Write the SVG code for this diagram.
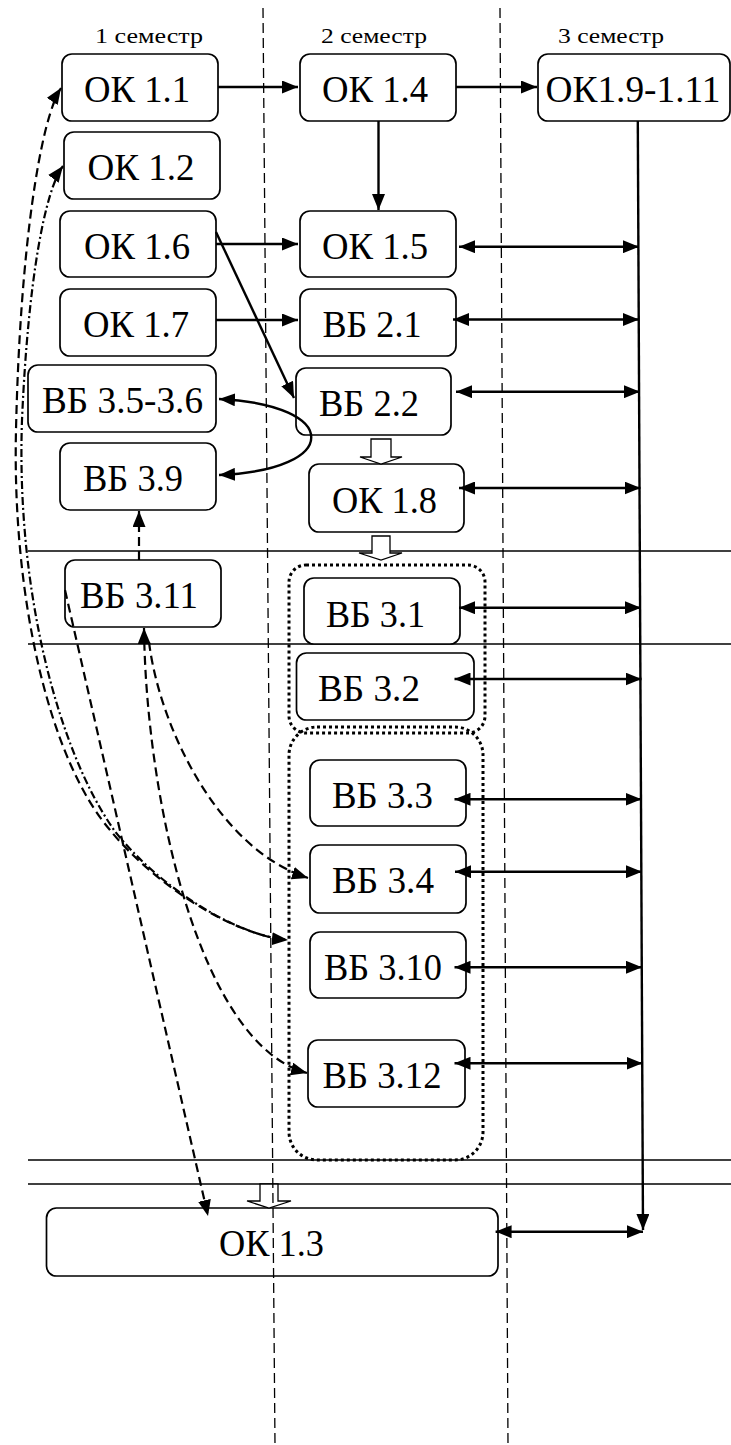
<svg xmlns="http://www.w3.org/2000/svg" width="731" height="1445" viewBox="0 0 731 1445">
<style>
.box{fill:#fff;stroke:#000;stroke-width:1.7}
.t{font-family:"Liberation Serif","Times New Roman",serif;font-size:38px;fill:#000;text-anchor:middle}
.sem{font-family:"Liberation Serif","Times New Roman",serif;font-size:21px;fill:#000}
.ln{fill:none;stroke:#000;stroke-width:2.4}
.dash{fill:none;stroke:#000;stroke-width:2.2;stroke-dasharray:9 5}
.dd{fill:none;stroke:#000;stroke-width:2.2;stroke-dasharray:8 3 2 3}
.hl{stroke:#000;stroke-width:1.5}
.vl{stroke:#000;stroke-width:1.3;stroke-dasharray:10 5}
.grp{fill:none;stroke:#000;stroke-width:3;stroke-dasharray:3 3}
.blk{fill:#fff;stroke:#000;stroke-width:1.3}
</style>
<defs>
<marker id="ah" viewBox="0 0 16 13" refX="16" refY="6.5" markerWidth="16" markerHeight="13" markerUnits="userSpaceOnUse" orient="auto-start-reverse"><path d="M0,0 L16,6.5 L0,13 z" fill="#000"/></marker>
</defs>

<g id="semesters">
<text class="sem" x="95" y="43" textLength="108" lengthAdjust="spacingAndGlyphs">1 семестр</text>
<text class="sem" x="321" y="43" textLength="106" lengthAdjust="spacingAndGlyphs">2 семестр</text>
<text class="sem" x="558" y="43" textLength="106" lengthAdjust="spacingAndGlyphs">3 семестр</text>
</g>

<g id="hlines">
<line class="hl" x1="28" y1="551" x2="731" y2="551"/>
<line class="hl" x1="28" y1="644" x2="731" y2="644"/>
<line class="hl" x1="28" y1="1160" x2="731" y2="1160"/>
<line class="hl" x1="28" y1="1184" x2="731" y2="1184"/>
</g>

<g id="groups">
<rect id="group1" class="grp" x="289" y="565" width="196" height="168" rx="17"/>
<rect id="group2" class="grp" x="289" y="727" width="194" height="433" rx="28"/>
</g>

<g id="OK1.1"><rect class="box" x="62" y="54" width="156" height="67" rx="10"/><text class="t" x="137" y="102" textLength="106" lengthAdjust="spacingAndGlyphs">ОК 1.1</text></g>
<g id="OK1.4"><rect class="box" x="300" y="54" width="156" height="67" rx="10"/><text class="t" x="375" y="102" textLength="106" lengthAdjust="spacingAndGlyphs">ОК 1.4</text></g>
<g id="OK1.9-1.11"><rect class="box" x="538" y="54" width="192" height="67" rx="10"/><text class="t" x="633" y="102" textLength="175" lengthAdjust="spacingAndGlyphs">ОК1.9-1.11</text></g>
<g id="OK1.2"><rect class="box" x="64" y="132" width="156" height="67" rx="10"/><text class="t" x="141" y="180" textLength="107" lengthAdjust="spacingAndGlyphs">ОК 1.2</text></g>
<g id="OK1.6"><rect class="box" x="60" y="211" width="156" height="66" rx="10"/><text class="t" x="137" y="259" textLength="106" lengthAdjust="spacingAndGlyphs">ОК 1.6</text></g>
<g id="OK1.5"><rect class="box" x="300" y="211" width="156" height="66" rx="10"/><text class="t" x="375" y="259" textLength="106" lengthAdjust="spacingAndGlyphs">ОК 1.5</text></g>
<g id="OK1.7"><rect class="box" x="60" y="289" width="156" height="67" rx="10"/><text class="t" x="136" y="337" textLength="106" lengthAdjust="spacingAndGlyphs">ОК 1.7</text></g>
<g id="VB2.1"><rect class="box" x="300" y="289" width="156" height="67" rx="10"/><text class="t" x="372" y="337" textLength="99" lengthAdjust="spacingAndGlyphs">ВБ 2.1</text></g>
<g id="VB3.5-3.6"><rect class="box" x="28" y="365" width="188" height="67" rx="10"/><text class="t" x="122.5" y="413" textLength="161" lengthAdjust="spacingAndGlyphs">ВБ 3.5-3.6</text></g>
<g id="VB2.2"><rect class="box" x="296" y="368" width="155" height="67" rx="10"/><text class="t" x="369" y="416" textLength="100" lengthAdjust="spacingAndGlyphs">ВБ 2.2</text></g>
<g id="VB3.9"><rect class="box" x="60" y="443" width="156" height="67" rx="10"/><text class="t" x="133" y="491" textLength="100" lengthAdjust="spacingAndGlyphs">ВБ 3.9</text></g>
<g id="OK1.8"><rect class="box" x="309" y="464" width="155" height="68" rx="10"/><text class="t" x="384.5" y="513" textLength="105" lengthAdjust="spacingAndGlyphs">ОК 1.8</text></g>
<g id="VB3.11"><rect class="box" x="65" y="560" width="156" height="67" rx="10"/><text class="t" x="139" y="608" textLength="118" lengthAdjust="spacingAndGlyphs">ВБ 3.11</text></g>
<g id="VB3.1"><rect class="box" x="304" y="578" width="156" height="66" rx="10"/><text class="t" x="375.5" y="627" textLength="99" lengthAdjust="spacingAndGlyphs">ВБ 3.1</text></g>
<g id="VB3.2"><rect class="box" x="296.5" y="653" width="177.5" height="67" rx="10"/><text class="t" x="369" y="701" textLength="102" lengthAdjust="spacingAndGlyphs">ВБ 3.2</text></g>
<g id="VB3.3"><rect class="box" x="310" y="760" width="156" height="66" rx="10"/><text class="t" x="382.5" y="808" textLength="101" lengthAdjust="spacingAndGlyphs">ВБ 3.3</text></g>
<g id="VB3.4"><rect class="box" x="310" y="845" width="156" height="68" rx="10"/><text class="t" x="383" y="893" textLength="102" lengthAdjust="spacingAndGlyphs">ВБ 3.4</text></g>
<g id="VB3.10"><rect class="box" x="310" y="932" width="156" height="66" rx="10"/><text class="t" x="383" y="980" textLength="118" lengthAdjust="spacingAndGlyphs">ВБ 3.10</text></g>
<g id="VB3.12"><rect class="box" x="308" y="1040" width="157" height="67" rx="10"/><text class="t" x="382" y="1088" textLength="119" lengthAdjust="spacingAndGlyphs">ВБ 3.12</text></g>
<g id="OK1.3"><rect class="box" x="46.5" y="1208" width="451.5" height="68" rx="10"/><text class="t" x="271.5" y="1256" textLength="105" lengthAdjust="spacingAndGlyphs">ОК 1.3</text></g>

<g id="connectors">
<path class="ln" d="M218 87 H298" marker-end="url(#ah)"/>
<path class="ln" d="M456 87 H537" marker-end="url(#ah)"/>
<path class="ln" d="M378.5 121 V210" marker-end="url(#ah)"/>
<path class="ln" d="M216 244 H298" marker-end="url(#ah)"/>
<path class="ln" d="M216 232 L294 398" marker-end="url(#ah)"/>
<path class="ln" d="M216 320 H298" marker-end="url(#ah)"/>
<path class="ln" d="M637.8 121 L643 1230" marker-end="url(#ah)"/>
<path class="ln" d="M219 399 C342 405 342 470 219 475" marker-start="url(#ah)" marker-end="url(#ah)"/>

<path class="ln" d="M459 246.7 H639" marker-start="url(#ah)" marker-end="url(#ah)"/>
<path class="ln" d="M453 319.5 H639" marker-start="url(#ah)" marker-end="url(#ah)"/>
<path class="ln" d="M456 391.7 H640" marker-start="url(#ah)" marker-end="url(#ah)"/>
<path class="ln" d="M459 488 H640.5" marker-start="url(#ah)" marker-end="url(#ah)"/>
<path class="ln" d="M459 607.7 H641" marker-start="url(#ah)" marker-end="url(#ah)"/>
<path class="ln" d="M454.5 679 H641.5" marker-start="url(#ah)" marker-end="url(#ah)"/>
<path class="ln" d="M454.5 799.3 H641.5" marker-start="url(#ah)" marker-end="url(#ah)"/>
<path class="ln" d="M455 871.7 H642" marker-start="url(#ah)" marker-end="url(#ah)"/>
<path class="ln" d="M454.5 967.3 H642" marker-start="url(#ah)" marker-end="url(#ah)"/>
<path class="ln" d="M454.5 1063.3 H642.5" marker-start="url(#ah)" marker-end="url(#ah)"/>
<path class="ln" d="M495.6 1231.7 H643" marker-start="url(#ah)" marker-end="url(#ah)"/>

<path class="dash" d="M61 88 C40 120 20 250 16 430 C12 600 50 760 110 830 C150 880 230 935 288 940" marker-start="url(#ah)" marker-end="url(#ah)"/>
<path class="dd" d="M63 166 C45 190 28 280 22 420 C16 590 58 750 114 830 C152 880 230 935 288 940" marker-start="url(#ah)"/>
<path class="dash" d="M139 560 V511" marker-end="url(#ah)"/>
<path class="dash" d="M65 590 L208 1216" marker-end="url(#ah)"/>
<path class="dash" d="M144 628 C146 800 200 1045 307 1073" marker-start="url(#ah)" marker-end="url(#ah)"/>
<path class="dash" d="M149 642 C160 730 220 850 308 878" marker-end="url(#ah)"/>
</g>

<g id="block-arrows">
<polygon class="blk" points="371,439 391,439 391,457 402,457 381,464 360,457 371,457"/>
<polygon class="blk" points="372,536 390,536 390,553 402,553 381,560 359,553 372,553"/>
<polygon class="blk" points="260,1184 278,1184 278,1201 291,1201 269,1208 247,1201 260,1201"/>
</g>

<g id="vlines">
<line class="vl" x1="263" y1="8" x2="275" y2="1445"/>
<line class="vl" x1="500" y1="8" x2="508" y2="1445"/>
</g>
</svg>
